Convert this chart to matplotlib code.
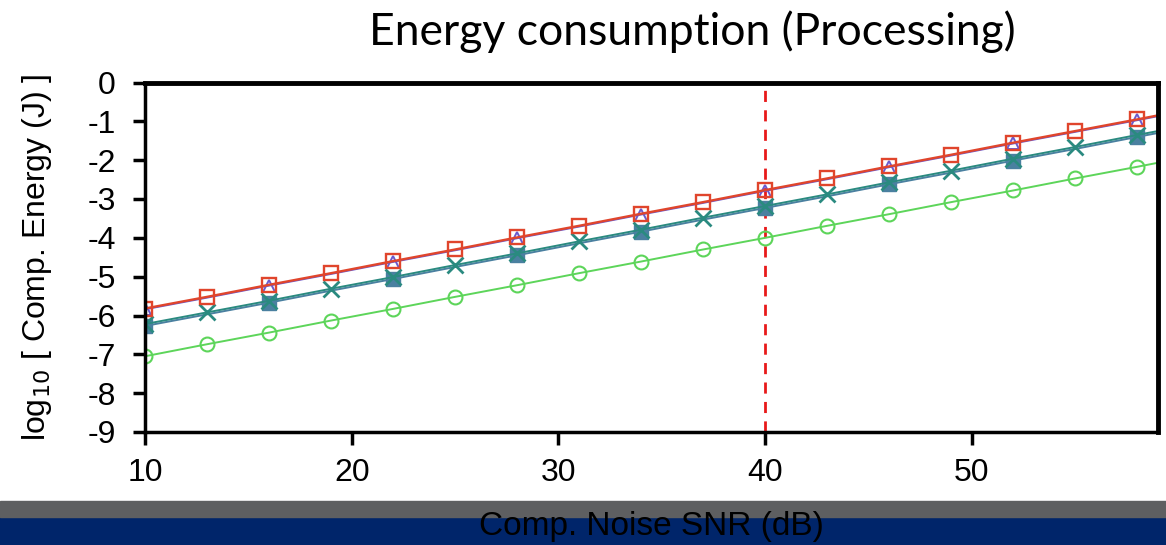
import matplotlib.pyplot as plt
import numpy as np
from matplotlib.patches import Rectangle

# SNR sweep (dB); last point sits past the right edge so the lines run to the frame
snr = [10, 13, 16, 19, 22, 25, 28, 31, 34, 37, 40, 43, 46, 49, 52, 55, 58, 61]

# log10 of computation energy (J) for each design
energy_red = [-5.82, -5.52, -5.21, -4.91, -4.60, -4.30, -3.99, -3.69, -3.38,
              -3.08, -2.77, -2.47, -2.16, -1.86, -1.55, -1.25, -0.95, -0.64]
energy_purple = [-5.84, -5.54, -5.23, -4.93, -4.62, -4.32, -4.01, -3.71, -3.40,
                 -3.10, -2.79, -2.49, -2.18, -1.88, -1.57, -1.27, -0.97, -0.66]
energy_teal = [-6.22, -5.92, -5.62, -5.31, -5.01, -4.70, -4.40, -4.09, -3.79,
               -3.48, -3.18, -2.88, -2.57, -2.27, -1.96, -1.66, -1.35, -1.05]
energy_steel = [-6.27, -5.97, -5.67, -5.36, -5.06, -4.75, -4.45, -4.14, -3.84,
                -3.53, -3.23, -2.93, -2.62, -2.32, -2.01, -1.71, -1.40, -1.10]
energy_green = [-7.05, -6.74, -6.44, -6.13, -5.83, -5.52, -5.22, -4.91, -4.61,
                -4.30, -4.00, -3.69, -3.39, -3.08, -2.78, -2.47, -2.17, -1.86]

marker_x = 40
xticks = [10, 20, 30, 40, 50]
yticks = [0, -1, -2, -3, -4, -5, -6, -7, -8, -9]

plt.rcParams['font.family'] = ['Liberation Sans', 'DejaVu Sans']

fig = plt.figure(figsize=(11.66, 5.45), dpi=100)

# footer bands, kept behind everything else
fig.patches.append(Rectangle((0, 0), 1, 28 / 545, transform=fig.transFigure,
                             color='#00256a', zorder=-2))
fig.patches.append(Rectangle((0, 28 / 545), 1, 16 / 545, transform=fig.transFigure,
                             color='#5e5f61', zorder=-2))

ax = fig.add_axes([145 / 1166, 113 / 545, 1013 / 1166, 349.5 / 545])

ax.plot(snr, energy_green, color='#5dd55a', lw=1.4, marker='o', ms=10,
        mfc='none', mew=1.5)
ax.plot(snr, energy_steel, color='#4a80a0', lw=1.4, marker='s', ms=10,
        markevery=2, mec='#4a80a0')
ax.plot(snr, energy_teal, color='#2a8a80', lw=1.4, marker='x', ms=11, mew=2)
ax.plot(snr, energy_purple, color='#6a5acd', lw=1.4, marker='^', ms=8,
        markevery=2, mfc='none', mew=1.4)
ax.plot(snr, energy_red, color='#e0452c', lw=1.7, marker='s', ms=10,
        mfc='none', mew=1.7)

ax.axvline(marker_x, color='#e8191a', lw=2, ls=(0, (4, 3)), zorder=1)

ax.set_xlim(10, 59)
ax.set_ylim(-9, 0)
ax.set_xticks(xticks)
ax.set_yticks(yticks)
ax.set_yticklabels([str(t) for t in yticks])
ax.tick_params(axis='both', labelsize=23, width=2.5, length=9, direction='out')
ax.tick_params(axis='x', pad=10)
ax.tick_params(axis='y', pad=12)
for side in ['left', 'bottom']:
    ax.spines[side].set_linewidth(2.5)
for side in ['top', 'right']:
    ax.spines[side].set_linewidth(3.5)

ax.set_ylabel('log$_{10}$ [ Comp. Energy (J) ]', fontsize=23, labelpad=24)
ax.set_title('Energy consumption (Processing)', fontsize=32,
             family=['Lato', 'DejaVu Sans'], pad=27, x=0.54)

# axis caption sits on top of the footer bands
fig.text((145 + 1013 / 2) / 1166, 18 / 545, 'Comp. Noise SNR (dB)',
         fontsize=24, ha='center', va='center', zorder=5)

fig.savefig('out.png', dpi=100)
